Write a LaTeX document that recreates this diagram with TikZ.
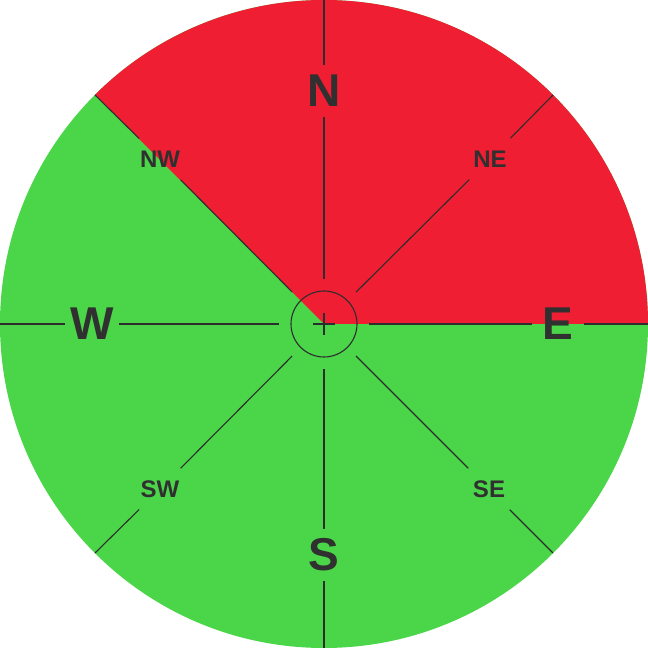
\documentclass[tikz,border=0pt]{standalone}
\usepackage{fontspec}
\setmainfont{Liberation Sans}
\definecolor{cred}{RGB}{239,30,51}
\definecolor{cgreen}{RGB}{74,214,72}
\definecolor{cline}{RGB}{45,45,45}
\definecolor{ctext}{RGB}{48,48,48}
\tikzset{
  ln/.style={draw=cline, line width=1.1pt},
  bigl/.style={circle, minimum size=52pt, inner sep=0pt, text=ctext, font=\fontsize{46}{46}\selectfont\bfseries},
  smalll/.style={circle, minimum size=58pt, inner sep=0pt, text=ctext, font=\fontsize{24}{24}\selectfont\bfseries},
}
\begin{document}
\begin{tikzpicture}[x=1pt,y=1pt]
\useasboundingbox (0,0) rectangle (648,648);
\begin{scope}[shift={(324,324)}]
  % fills
  \fill[cgreen] (0,0) circle (324);
  \fill[cred] (0,0) -- (0:324) arc (0:135:324) -- cycle;
  % centre
  \node[circle, minimum size=90pt, inner sep=0pt] (hub) at (0,0) {};
  \node[circle, draw=cline, line width=1.1pt, minimum size=66pt, inner sep=0pt] (ring) at (0,0) {};
  \coordinate (cl) at (-11,0);
  \coordinate (cr) at (11,0);
  \coordinate (ct) at (0,11);
  \coordinate (cb) at (0,-11);
  % rim points
  \coordinate (rN) at (90:324);
  \coordinate (rS) at (270:324);
  \coordinate (rE) at (0:324);
  \coordinate (rW) at (180:324);
  \coordinate (rNE) at (45:324);
  \coordinate (rNW) at (135:324);
  \coordinate (rSE) at (315:324);
  \coordinate (rSW) at (225:324);
  % labels
  \node[bigl] (N) at (0,233) {N};
  \node[bigl] (S) at (0,-231) {S};
  \node[bigl] (E) at (234,0) {E};
  \node[bigl] (W) at (-232,0) {W};
  \node[smalll] (NE) at (166,165) {NE};
  \node[smalll] (NW) at (-164,165) {NW};
  \node[smalll] (SE) at (165,-165) {SE};
  \node[smalll] (SW) at (-164,-165) {SW};
  % lines
  \foreach \d in {N,S,E,W,NE,NW,SE,SW}{
    \draw[ln] (hub) -- (\d);
    \draw[ln] (\d) -- (r\d);
  }
  \draw[ln] (cl) -- (cr);
  \draw[ln] (ct) -- (cb);
\end{scope}
\end{tikzpicture}
\end{document}
